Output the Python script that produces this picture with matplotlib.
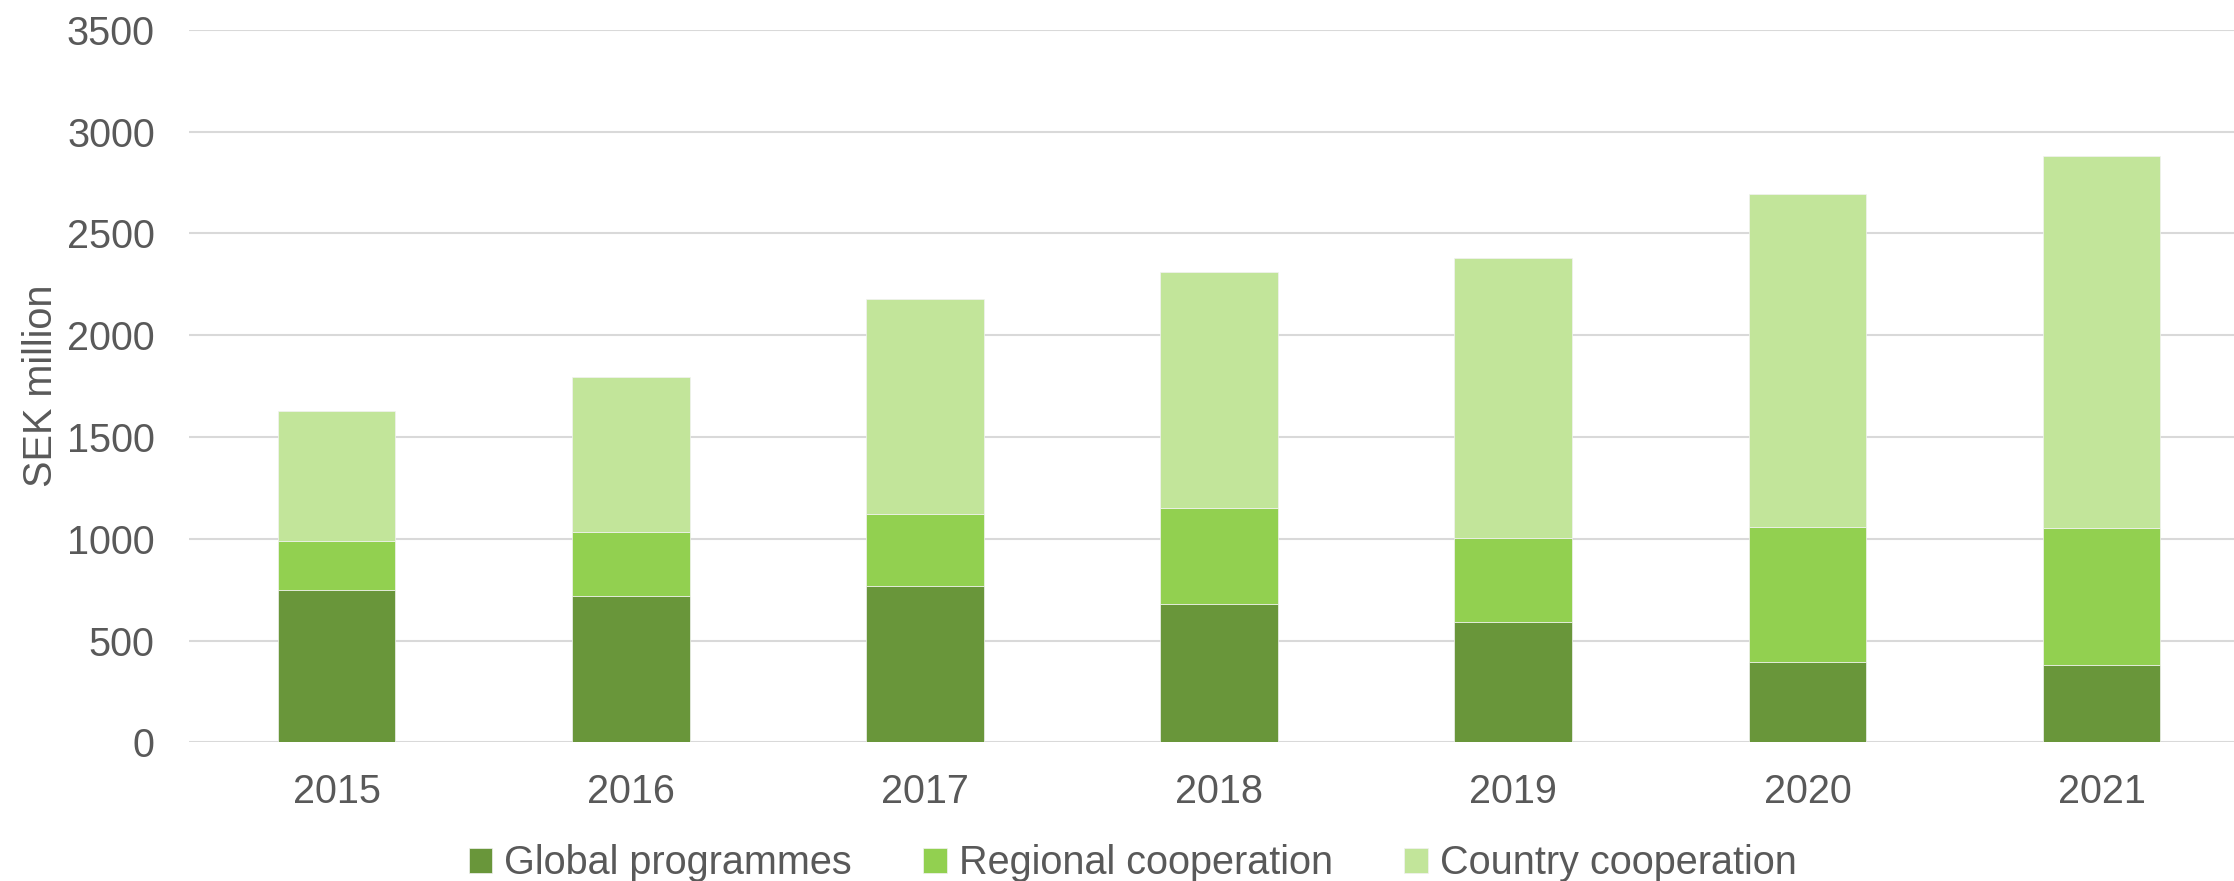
import numpy as np
import matplotlib.pyplot as plt

plt.rcParams['font.family'] = ['Liberation Sans', 'DejaVu Sans']

# Dados (SEK milhões)
anos = ['2015', '2016', '2017', '2018', '2019', '2020', '2021']
global_prog = [750, 720, 770, 678, 590, 395, 380]
regional = [237, 311, 352, 475, 414, 665, 673]
country = [643, 764, 1058, 1157, 1378, 1632, 1830]

nomes = ['Global programmes', 'Regional cooperation', 'Country cooperation']
cores = ['#69963A', '#92D050', '#C2E59A']
texto = '#595959'
fs = 28.5

fig = plt.figure(figsize=(22.34, 8.81), dpi=100)
ax = fig.add_axes([0.0848, 0.1574, 0.9152, 0.8086])

x = np.arange(len(anos))
base = np.zeros(len(anos))
for serie, nome, cor in zip([global_prog, regional, country], nomes, cores):
    ax.bar(x, serie, width=0.4, bottom=base, color=cor, label=nome,
           edgecolor='#F2F2F2', linewidth=0.5, zorder=3)
    base = base + np.array(serie)

ax.set_ylim(0, 3500)
ax.set_xlim(-0.5, 6.45)
ax.set_yticks(np.arange(0, 3501, 500))
ax.set_xticks(x)
ax.set_xticklabels(anos)
ax.grid(axis='y', color='#D9D9D9', linewidth=1.5, zorder=0)
ax.set_axisbelow(True)
for lado in ['top', 'right', 'left', 'bottom']:
    ax.spines[lado].set_visible(False)
ax.tick_params(axis='both', length=0, labelsize=fs, colors=texto)
ax.tick_params(axis='x', pad=22)
ax.tick_params(axis='y', pad=25)
ax.set_ylabel('SEK million', fontsize=fs, color=texto, labelpad=5)

fig.legend(loc='center', bbox_to_anchor=(0.507, 0.02), ncol=3, frameon=False,
           fontsize=fs, labelcolor=texto, handlelength=0.6, handleheight=0.6,
           handletextpad=0.3, columnspacing=1.8, borderaxespad=0)

fig.savefig('out.png', dpi=100)
